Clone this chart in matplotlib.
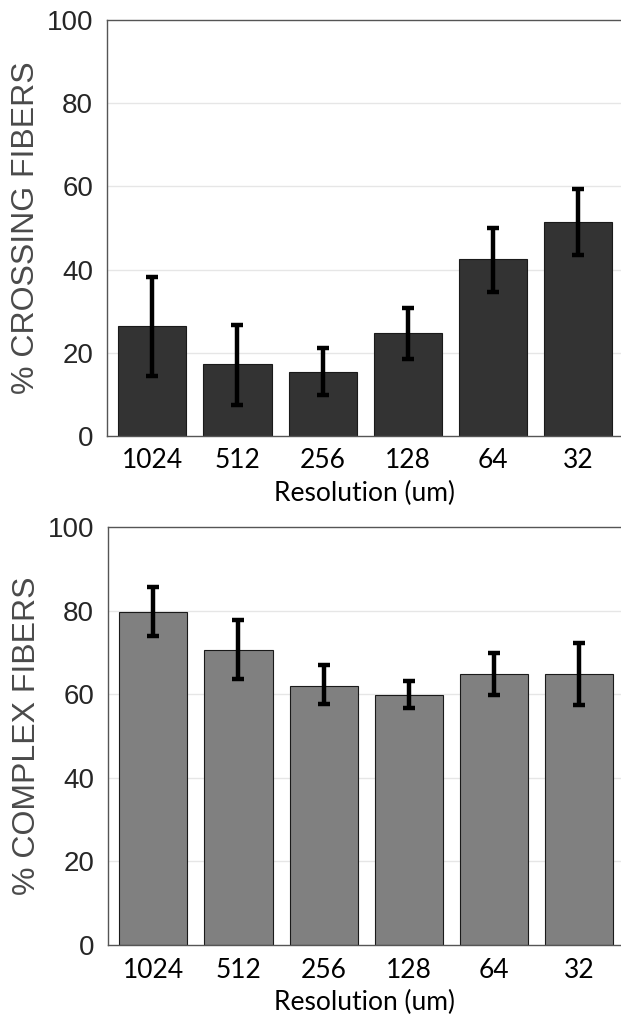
import matplotlib
matplotlib.use("Agg")
import matplotlib.pyplot as plt
import numpy as np

categories = ["1024", "512", "256", "128", "64", "32"]
crossing = [26.4, 17.2, 15.4, 24.7, 42.5, 51.5]
crossing_lo = [14.4, 7.4, 9.8, 18.6, 34.7, 43.5]
crossing_hi = [38.3, 26.7, 21.2, 30.7, 50.0, 59.3]
complex_ = [79.6, 70.6, 61.9, 59.9, 64.9, 64.9]
complex_lo = [74.0, 63.6, 57.7, 56.7, 59.7, 57.5]
complex_hi = [85.6, 77.7, 66.9, 63.1, 69.9, 72.2]
yticks = [0, 20, 40, 60, 80, 100]

W, H = 621, 1019
fig = plt.figure(figsize=(W / 100, H / 100), dpi=100)

def panel(rect, vals, lo, hi, color, ylabel):
    ax = fig.add_axes(rect)
    x = np.arange(1, len(categories) + 1)
    v = np.array(vals)
    yerr = np.vstack([v - np.array(lo), np.array(hi) - v])
    ax.bar(x, v, width=0.8, color=color, edgecolor="#1a1a1a", linewidth=0.8, zorder=2)
    ax.errorbar(x, v, yerr=yerr, fmt="none", ecolor="black", elinewidth=3.2,
                capsize=4.5, capthick=3.2, zorder=3)
    ax.set_xlim(0.47, 6.5)
    ax.set_ylim(0, 100)
    ax.set_yticks(yticks)
    ax.set_yticklabels([str(t) for t in yticks], fontsize=20,
                       family=["Liberation Sans"], color="#262626")
    ax.set_xticks(x)
    ax.set_xticklabels(categories, fontsize=19, family=["Lato"], color="black")
    ax.tick_params(axis="x", length=0, pad=9)
    ax.tick_params(axis="y", length=0, pad=10)
    for yv in [20, 40, 60, 80]:
        ax.axhline(yv, color="#e6e6e6", linewidth=1.0, zorder=0)
    for s in ["left", "bottom", "top"]:
        ax.spines[s].set_color("#555555")
        ax.spines[s].set_linewidth(1.0)
    ax.spines["right"].set_visible(False)
    ax.set_ylabel(ylabel, fontsize=23, family=["Liberation Sans"], color="#4a4a4a",
                  labelpad=4)
    ax.set_xlabel("Resolution (um)", fontsize=19, family=["Lato"], color="black",
                  labelpad=5)
    return ax

panel([107 / W, 1 - 436 / H, (621 - 107) / W, 416 / H], crossing, crossing_lo,
      crossing_hi, "#333333", "% CROSSING FIBERS")
panel([108 / W, 1 - 945 / H, (622 - 108) / W, 418 / H], complex_, complex_lo,
      complex_hi, "#808080", "% COMPLEX FIBERS")

fig.savefig("out.png", dpi=100)
